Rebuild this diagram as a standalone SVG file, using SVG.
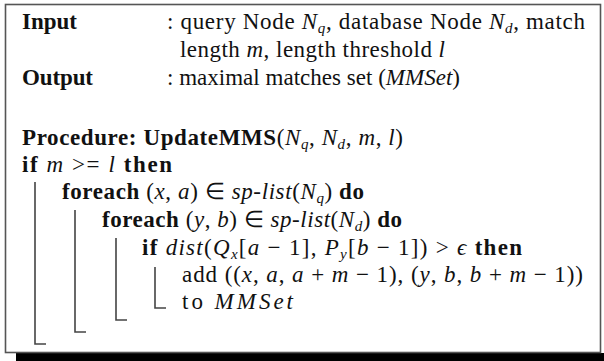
<svg xmlns="http://www.w3.org/2000/svg" width="604" height="361" viewBox="0 0 604 361">
<style>
text{font-family:"Liberation Serif","Times New Roman",serif;font-size:23px;fill:#111}
.b{font-weight:bold}
.i{font-style:italic}
.s{font-size:15px}
.bar{fill:none;stroke:#444;stroke-width:1.6}
</style>
<rect x="0" y="0" width="604" height="361" fill="#fff"/>
<rect x="16" y="353" width="588" height="8" fill="#000"/>
<g id="frame"><rect x="5.5" y="4.5" width="595" height="348" fill="#fff" stroke="#555" stroke-width="1.6"/></g>
<g id="header">
<text x="22" y="29" class="b" textLength="55" lengthAdjust="spacing">Input</text>
<text x="167" y="29" textLength="418" lengthAdjust="spacing">: query Node <tspan class="i">N</tspan><tspan class="i s" dy="4">q</tspan><tspan dy="-4">, database Node </tspan><tspan class="i">N</tspan><tspan class="i s" dy="4">d</tspan><tspan dy="-4">, match</tspan></text>
<text x="180" y="57" textLength="265" lengthAdjust="spacing">length <tspan class="i">m</tspan>, length threshold <tspan class="i">l</tspan></text>
<text x="22" y="85" class="b" textLength="71" lengthAdjust="spacing">Output</text>
<text x="167" y="85" textLength="293" lengthAdjust="spacing">: maximal matches set (<tspan class="i">MMSet</tspan>)</text>
</g>
<g id="procedure">
<text x="22" y="145" textLength="381" lengthAdjust="spacing"><tspan class="b">Procedure: UpdateMMS</tspan>(<tspan class="i">N</tspan><tspan class="i s" dy="4">q</tspan><tspan dy="-4">, </tspan><tspan class="i">N</tspan><tspan class="i s" dy="4">d</tspan><tspan dy="-4">, </tspan><tspan class="i">m</tspan>, <tspan class="i">l</tspan>)</text>
<text x="22" y="172" textLength="150" lengthAdjust="spacing"><tspan class="b">if</tspan> <tspan class="i">m</tspan> &gt;= <tspan class="i">l</tspan> <tspan class="b">then</tspan></text>
<text x="62" y="199" textLength="302" lengthAdjust="spacing"><tspan class="b">foreach</tspan> (<tspan class="i">x</tspan>, <tspan class="i">a</tspan>) ∈ <tspan class="i">sp-list</tspan>(<tspan class="i">N</tspan><tspan class="i s" dy="4">q</tspan><tspan dy="-4">) </tspan><tspan class="b">do</tspan></text>
<text x="102" y="227" textLength="300" lengthAdjust="spacing"><tspan class="b">foreach</tspan> (<tspan class="i">y</tspan>, <tspan class="i">b</tspan>) ∈ <tspan class="i">sp-list</tspan>(<tspan class="i">N</tspan><tspan class="i s" dy="4">d</tspan><tspan dy="-4">) </tspan><tspan class="b">do</tspan></text>
<text x="142" y="255" textLength="380" lengthAdjust="spacing"><tspan class="b">if</tspan>  <tspan class="i">dist</tspan>(<tspan class="i">Q</tspan><tspan class="i s" dy="4">x</tspan><tspan dy="-4">[</tspan><tspan class="i">a</tspan> − 1], <tspan class="i">P</tspan><tspan class="i s" dy="4">y</tspan><tspan dy="-4">[</tspan><tspan class="i">b</tspan> − 1]) &gt; <tspan class="i">ϵ</tspan> <tspan class="b">then</tspan></text>
<text x="182" y="282" textLength="401" lengthAdjust="spacing">add ((<tspan class="i">x</tspan>, <tspan class="i">a</tspan>, <tspan class="i">a</tspan> + <tspan class="i">m</tspan> − 1), (<tspan class="i">y</tspan>, <tspan class="i">b</tspan>, <tspan class="i">b</tspan> + <tspan class="i">m</tspan> − 1))</text>
<text x="182" y="309" textLength="111" lengthAdjust="spacing">to <tspan class="i">MMSet</tspan></text>
</g>
<g id="connectors">
<path class="bar" d="M35,182 V344 H46"/>
<path class="bar" d="M75,210 V332 H86"/>
<path class="bar" d="M116,238 V320 H127"/>
<path class="bar" d="M155,267 V308 H166"/>
</g>
</svg>
